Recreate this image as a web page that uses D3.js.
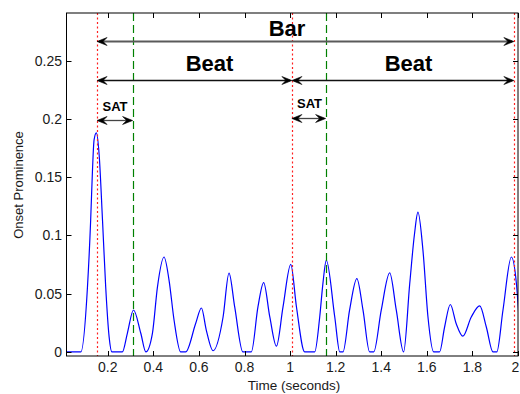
<!DOCTYPE html>
<html>
<head>
<meta charset="utf-8">
<script src="https://cdn.jsdelivr.net/npm/d3@7"></script>
<style>
  html, body { margin: 0; padding: 0; background: #fff; }
  svg { display: block; font-family: "Liberation Sans", Arial, sans-serif; }
</style>
</head>
<body>
<svg id="chart" width="520" height="394"></svg>
<script>
// ---- data ----
const timeSec = [0.016, 0.082, 0.111, 0.125, 0.133, 0.140, 0.150, 0.162, 0.177, 0.191, 0.206, 0.218,
  0.264, 0.286, 0.313, 0.345, 0.367, 0.396, 0.418, 0.447, 0.469, 0.491, 0.520, 0.542,
  0.586, 0.611, 0.632, 0.662, 0.706, 0.732, 0.757, 0.793, 0.830, 0.859, 0.884, 0.911,
  0.940, 0.969, 1.003, 1.028, 1.064, 1.108, 1.130, 1.144, 1.159, 1.196, 1.218, 1.232,
  1.261, 1.293, 1.320, 1.349, 1.367, 1.400, 1.437, 1.466, 1.498, 1.525, 1.546, 1.561,
  1.583, 1.605, 1.630, 1.656, 1.678, 1.703, 1.729, 1.758, 1.795, 1.832, 1.861, 1.890,
  1.907, 1.934, 1.971, 1.993, 2.007];
const onsetProminence = [0, 0, 0.0557, 0.113, 0.156, 0.182, 0.188, 0.170, 0.113, 0.0557, 0.0129, 0,
  0, 0.016, 0.036, 0.016, 0, 0.016, 0.0557, 0.0815, 0.0615, 0.0272, 0, 0,
  0.0246, 0.0377, 0.019, 0.001, 0.030, 0.0677, 0.0386, 0, 0, 0.0386, 0.0595, 0.030,
  0.0049, 0.0386, 0.0752, 0.0386, 0, 0, 0.030, 0.0587, 0.0786, 0.030, 0, 0,
  0.0358, 0.063, 0.0358, 0, 0, 0.0358, 0.0678, 0.0358, 0, 0.0587, 0.1015, 0.120,
  0.0872, 0.030, 0, 0, 0.0214, 0.0407, 0.0242, 0.0135, 0.030, 0.0395, 0.0214, 0,
  0, 0.0358, 0.0815, 0.0587, 0.0214];

const xTicks = [0.2, 0.4, 0.6, 0.8, 1.0, 1.2, 1.4, 1.6, 1.8, 2.0];
const xTickLabels = ["0.2", "0.4", "0.6", "0.8", "1", "1.2", "1.4", "1.6", "1.8", "2"];
const yTicks = [0, 0.05, 0.1, 0.15, 0.2, 0.25];
const yTickLabels = ["0", "0.05", "0.1", "0.15", "0.2", "0.25"];
const xDomain = [0.019, 2.0];
const yDomain = [-0.0035, 0.291];

const barLines = [0.153, 1.008, 1.982];     // red dotted
const satLines = [0.309, 1.156];            // green dashed

// arrows: start t, end t, height
const arrowNames = ["Bar", "Beat", "Beat", "SAT", "SAT"];
const arrowStart = [0.153, 0.153, 1.008, 0.153, 1.008];
const arrowEnd = [1.982, 1.008, 1.982, 0.309, 1.156];
const arrowLevel = [0.2666, 0.2337, 0.2337, 0.1992, 0.2009];
const labelT = [0.9865, 0.6465, 1.5197, 0.2318, 1.0853];
const labelLevel = [0.2709, 0.2408, 0.2408, 0.2069, 0.2095];

const xLabel = "Time (seconds)";
const yLabel = "Onset Prominence";

// ---- drawing ----
const svg = d3.select("#chart");
const L = 66.5, R = 518, T = 13, B = 356;
const x = d3.scaleLinear().domain(xDomain).range([L, R]);
const y = d3.scaleLinear().domain(yDomain).range([B, T]);

svg.append("rect").attr("width", 520).attr("height", 394).attr("fill", "#fff");

svg.append("defs").append("clipPath").attr("id", "plotclip")
  .append("rect").attr("x", L).attr("y", T).attr("width", R - L).attr("height", B - T);

const plot = svg.append("g").attr("clip-path", "url(#plotclip)");

// signal
const pts = timeSec.map((t, i) => [t, onsetProminence[i]]);
plot.append("path")
  .datum(pts)
  .attr("fill", "none")
  .attr("stroke", "#0000ff")
  .attr("stroke-width", 1.2)
  .attr("d", d3.line().x(d => x(d[0])).y(d => y(d[1])).curve(d3.curveMonotoneX));

// vertical lines
plot.selectAll("line.bar").data(barLines).enter().append("line")
  .attr("x1", d => Math.round(x(d)) + 0.5).attr("x2", d => Math.round(x(d)) + 0.5)
  .attr("y1", T).attr("y2", B)
  .attr("stroke", "#ff2020").attr("stroke-width", 1.2)
  .attr("stroke-dasharray", "2,2.5");
plot.selectAll("line.sat").data(satLines).enter().append("line")
  .attr("x1", d => Math.round(x(d)) + 0.5).attr("x2", d => Math.round(x(d)) + 0.5)
  .attr("y1", T).attr("y2", B)
  .attr("stroke", "#008000").attr("stroke-width", 1.2)
  .attr("stroke-dasharray", "8,4");

// arrows
const ann = svg.append("g");
arrowNames.forEach((name, i) => {
  const x0 = x(arrowStart[i]), x1 = x(arrowEnd[i]), yy = Math.round(y(arrowLevel[i])) + 0.5;
  const isBar = name === "Bar";
  const col = isBar ? "#5a5a5a" : (name === "SAT" ? "#444" : "#111");
  ann.append("line").attr("x1", x0 + 2).attr("x2", x1 - 2).attr("y1", yy).attr("y2", yy)
    .attr("stroke", col).attr("stroke-width", isBar ? 2 : 1.3);
  [[x0, -1], [x1, 1]].forEach(([tx, d]) => {
    const len = 10, hw = 4, notch = 6;
    const p = `M${tx},${yy} L${tx - d * len},${yy - hw} L${tx - d * notch},${yy} L${tx - d * len},${yy + hw} Z`;
    ann.append("path").attr("d", p).attr("fill", "#000").attr("stroke", "#000").attr("stroke-width", 0.6);
  });
  ann.append("text")
    .attr("x", x(labelT[i])).attr("y", y(labelLevel[i]))
    .attr("text-anchor", "middle")
    .attr("font-weight", "bold")
    .attr("font-size", name === "SAT" ? 13 : 22)
    .attr("fill", "#000")
    .text(name);
});

// axes box
const ax = svg.append("g");
ax.append("rect").attr("x", L).attr("y", T).attr("width", R - L).attr("height", B - T)
  .attr("fill", "none").attr("stroke", "#000").attr("stroke-width", 1);

const tl = 5;
xTicks.forEach((t, i) => {
  const xx = Math.round(x(t)) + 0.5;
  ax.append("line").attr("x1", xx).attr("x2", xx).attr("y1", B).attr("y2", B - tl).attr("stroke", "#000");
  ax.append("line").attr("x1", xx).attr("x2", xx).attr("y1", T).attr("y2", T + tl).attr("stroke", "#000");
  ax.append("text").attr("x", Math.min(x(t), 515.5)).attr("y", 372).attr("text-anchor", "middle")
    .attr("font-size", 14).attr("fill", "#1a1a1a").text(xTickLabels[i]);
});
yTicks.forEach((v, i) => {
  const yy = Math.round(y(v)) + 0.5;
  ax.append("line").attr("x1", L).attr("x2", L + tl).attr("y1", yy).attr("y2", yy).attr("stroke", "#000");
  ax.append("line").attr("x1", R).attr("x2", R - tl).attr("y1", yy).attr("y2", yy).attr("stroke", "#000");
  ax.append("text").attr("x", 62).attr("y", y(v) + 5).attr("text-anchor", "end")
    .attr("font-size", 14).attr("fill", "#1a1a1a").text(yTickLabels[i]);
});

svg.append("text").attr("x", 294).attr("y", 390).attr("text-anchor", "middle")
  .attr("font-size", 13.5).attr("fill", "#1a1a1a").text(xLabel);
svg.append("text").attr("transform", "translate(23,185) rotate(-90)").attr("text-anchor", "middle")
  .attr("font-size", 13).attr("fill", "#1a1a1a").text(yLabel);
</script>
</body>
</html>
